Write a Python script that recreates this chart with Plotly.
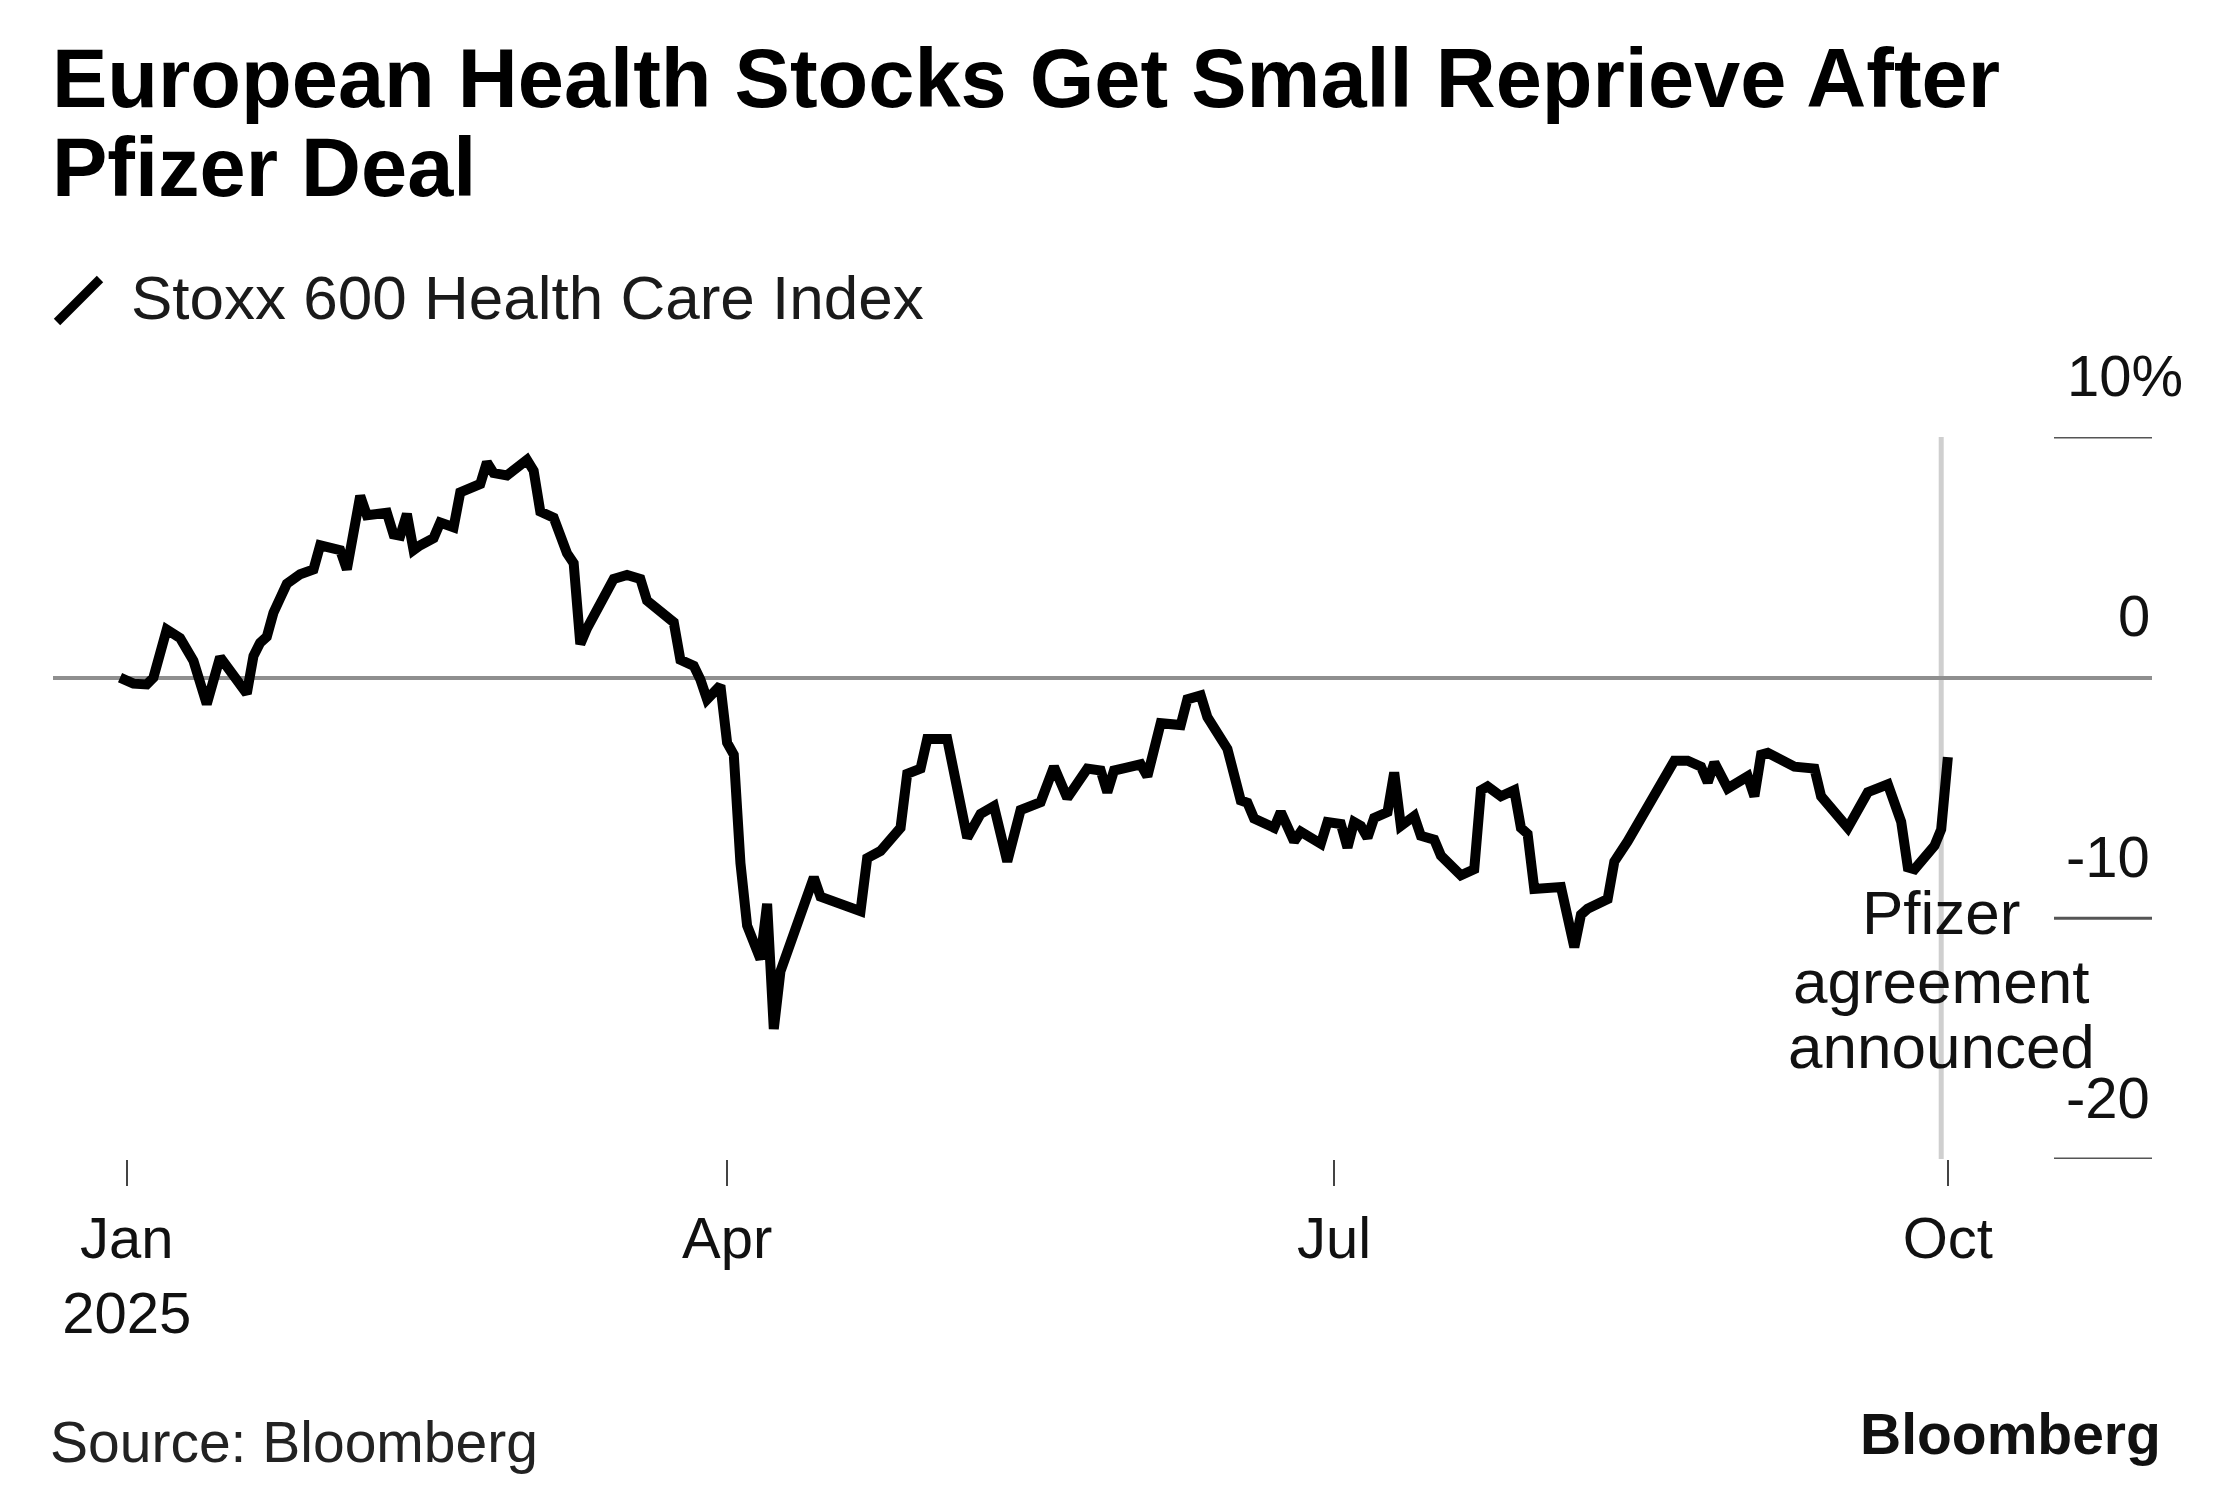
import plotly.graph_objects as go

# ---- data ----
dates = [
    "2024-12-31", "2025-01-02", "2025-01-04", "2025-01-05", "2025-01-07", "2025-01-09",
    "2025-01-11", "2025-01-13", "2025-01-15", "2025-01-17", "2025-01-19", "2025-01-20",
    "2025-01-21", "2025-01-22", "2025-01-23", "2025-01-24", "2025-01-25", "2025-01-27",
    "2025-01-29", "2025-01-30", "2025-02-01", "2025-02-02", "2025-02-03", "2025-02-04",
    "2025-02-05", "2025-02-06", "2025-02-09", "2025-02-10", "2025-02-11", "2025-02-12",
    "2025-02-13", "2025-02-14", "2025-02-16", "2025-02-17", "2025-02-19", "2025-02-20",
    "2025-02-21", "2025-02-23", "2025-02-24", "2025-02-25", "2025-02-27", "2025-03-02",
    "2025-03-03", "2025-03-04", "2025-03-06", "2025-03-08", "2025-03-09", "2025-03-10",
    "2025-03-11", "2025-03-15", "2025-03-17", "2025-03-19", "2025-03-20", "2025-03-22",
    "2025-03-24", "2025-03-25", "2025-03-27", "2025-03-28", "2025-03-29", "2025-03-31",
    "2025-04-01", "2025-04-02", "2025-04-03", "2025-04-04", "2025-04-06", "2025-04-07",
    "2025-04-08", "2025-04-09", "2025-04-14", "2025-04-15", "2025-04-21", "2025-04-22",
    "2025-04-24", "2025-04-27", "2025-04-28", "2025-04-30", "2025-05-01", "2025-05-04",
    "2025-05-05", "2025-05-07", "2025-05-09", "2025-05-11", "2025-05-13", "2025-05-15",
    "2025-05-18", "2025-05-20", "2025-05-22", "2025-05-25", "2025-05-27", "2025-05-28",
    "2025-05-29", "2025-06-02", "2025-06-03", "2025-06-04", "2025-06-05", "2025-06-08",
    "2025-06-09", "2025-06-11", "2025-06-12", "2025-06-15", "2025-06-17", "2025-06-18",
    "2025-06-19", "2025-06-22", "2025-06-23", "2025-06-25", "2025-06-26", "2025-06-29",
    "2025-06-30", "2025-07-02", "2025-07-03", "2025-07-04", "2025-07-05", "2025-07-06",
    "2025-07-07", "2025-07-09", "2025-07-10", "2025-07-11", "2025-07-13", "2025-07-14",
    "2025-07-16", "2025-07-17", "2025-07-20", "2025-07-22", "2025-07-23", "2025-07-24",
    "2025-07-26", "2025-07-28", "2025-07-29", "2025-07-30", "2025-07-31", "2025-08-04",
    "2025-08-06", "2025-08-07", "2025-08-08", "2025-08-11", "2025-08-12", "2025-08-14",
    "2025-08-16", "2025-08-18", "2025-08-20", "2025-08-21", "2025-08-23", "2025-08-25",
    "2025-08-26", "2025-08-27", "2025-08-29", "2025-08-31", "2025-09-01", "2025-09-02",
    "2025-09-03", "2025-09-04", "2025-09-08", "2025-09-11", "2025-09-12", "2025-09-16",
    "2025-09-18", "2025-09-19", "2025-09-22", "2025-09-24", "2025-09-25", "2025-09-26",
    "2025-09-29", "2025-09-30", "2025-10-01",
]
values = [
    0.0, -0.25, -0.28, 0.0, 2.0, 1.65,
    0.7, -1.1, 0.85, 0.1, -0.66, 0.9,
    1.45, 1.7, 2.7, 3.3, 3.9, 4.3,
    4.5, 5.5, 5.4, 5.3, 4.5, 6.15,
    7.55, 6.75, 6.85, 5.95, 5.9, 6.8,
    5.3, 5.5, 5.8, 6.45, 6.25, 7.7,
    7.8, 8.05, 8.95, 8.5, 8.4, 9.05,
    8.6, 6.9, 6.65, 5.17, 4.76, 1.4,
    2.05, 4.1, 4.27, 4.1, 3.2, 2.71,
    2.3, 0.74, 0.49, -0.08, -0.9, -0.33,
    -2.7, -3.2, -7.7, -10.3, -11.7, -9.4,
    -14.6, -12.2, -8.3, -9.1, -9.7, -7.5,
    -7.2, -6.24, -4.0, -3.78, -2.55, -2.55,
    -3.86, -6.65, -5.66, -5.34, -7.64, -5.5,
    -5.17, -3.7, -5.0, -3.78, -3.86, -4.76,
    -3.86, -3.6, -4.1, -3.04, -1.89, -1.97,
    -0.9, -0.74, -1.64, -2.96, -5.1, -5.2,
    -5.85, -6.24, -5.58, -6.8, -6.4, -6.9,
    -6.0, -6.08, -7.06, -6.0, -6.16, -6.65,
    -5.83, -5.58, -3.94, -6.16, -5.75, -6.57,
    -6.73, -7.39, -8.21, -7.96, -4.68, -4.52,
    -4.93, -4.68, -6.24, -6.49, -8.78, -8.7,
    -11.2, -9.85, -9.6, -9.2, -7.64, -6.8,
    -5.85, -4.84, -3.86, -3.45, -3.45, -3.7,
    -4.35, -3.53, -4.6, -4.27, -4.1, -4.93,
    -3.2, -3.12, -3.7, -3.78, -4.93, -6.24,
    -5.25, -4.76, -4.43, -5.99, -7.88, -7.96,
    -6.98, -6.3, -3.3,
]

x_tick_dates = ["2025-01-01", "2025-04-01", "2025-07-01", "2025-10-01"]
x_tick_labels = ["Jan<br>2025", "Apr", "Jul", "Oct"]
y_tick_values = [-20, -10, 0, 10]
y_tick_labels = ["-20", "-10", "0", "10%"]
event_date = "2025-09-30"
event_lines = ["Pfizer", "agreement", "announced"]
series_name = "Stoxx 600 Health Care Index"
title_lines = ["European Health Stocks Get Small Reprieve After", "Pfizer Deal"]
source_text = "Source: Bloomberg"
brand_text = "Bloomberg"

FONT = "Liberation Sans, Arial, sans-serif"

# page is drawn inside an 8px body margin
PAGE_OFF = 8
W, H = 2233 - 2 * PAGE_OFF, 1495 - 2 * PAGE_OFF
PLOT_L, PLOT_R, PLOT_T, PLOT_B = 53, 2152, 437, 1159  # page pixels
L = PLOT_L - PAGE_OFF
R = W - (PLOT_R - PAGE_OFF)
T = PLOT_T - PAGE_OFF
B = H - (PLOT_B - PAGE_OFF)
plot_w = PLOT_R - PLOT_L
plot_h = PLOT_B - PLOT_T


def px_x(px):
    return (px - PLOT_L) / plot_w


def px_y(py):
    return (PLOT_B - py) / plot_h


fig = go.Figure()
fig.add_trace(go.Scatter(
    x=dates, y=values, mode="lines", name=series_name,
    line=dict(color="#000000", width=10), showlegend=False,
    hoverinfo="skip",
))

shapes = [
    # event marker
    dict(type="line", xref="x", yref="y", x0=event_date, x1=event_date,
         y0=-20, y1=10, line=dict(color="#cfcfcf", width=5), layer="below"),
    # legend slash
    dict(type="line", xref="paper", yref="paper",
         x0=px_x(57), y0=px_y(322), x1=px_x(100), y1=px_y(279),
         line=dict(color="#000000", width=9)),
]
# short tick segments at the right edge for the non-zero ticks
for v in y_tick_values:
    if v != 0:
        shapes.append(dict(type="line", xref="paper", yref="y",
                           x0=px_x(2054), x1=1, y0=v, y1=v,
                           line=dict(color="#555555", width=3)))

annotations = []
for lab, py in zip(title_lines, [78, 168]):
    annotations.append(dict(text="<b>" + lab + "</b>", xref="paper", yref="paper",
                            x=px_x(50), y=px_y(py), xanchor="left", yanchor="middle",
                            showarrow=False,
                            font=dict(family=FONT, size=83, color="#000000")))

annotations += [
    dict(text=series_name, xref="paper", yref="paper", x=px_x(129), y=px_y(297),
         xanchor="left", yanchor="middle", showarrow=False,
         font=dict(family=FONT, size=62, color="#1a1a1a")),
    dict(text=source_text, xref="paper", yref="paper", x=px_x(48), y=px_y(1442),
         xanchor="left", yanchor="middle", showarrow=False,
         font=dict(family=FONT, size=57, color="#222222")),
    dict(text="<b>" + brand_text + "</b>", xref="paper", yref="paper", x=px_x(2163), y=px_y(1434),
         xanchor="right", yanchor="middle", showarrow=False,
         font=dict(family=FONT, size=57, color="#111111")),
]

# y tick labels sitting above their tick lines
for v, lab in zip(y_tick_values, y_tick_labels):
    xr = px_x(2185) if lab.endswith("%") else px_x(2152)
    annotations.append(dict(text=lab, xref="paper", yref="y", x=xr, y=v,
                            xanchor="right", yanchor="middle", yshift=62,
                            showarrow=False,
                            font=dict(family=FONT, size=58, color="#111111")))

# event label lines
for lab, py in zip(event_lines, [912, 981, 1046]):
    annotations.append(dict(text=lab, xref="x", yref="paper", x=event_date, y=px_y(py),
                            xanchor="center", yanchor="middle", showarrow=False,
                            font=dict(family=FONT, size=62, color="#111111")))

fig.update_layout(
    width=W, height=H,
    margin=dict(l=L, r=R, t=T, b=B, pad=0),
    paper_bgcolor="white", plot_bgcolor="white",
    shapes=shapes,
    annotations=annotations,
    font=dict(family=FONT, color="#111111"),
)

fig.update_xaxes(
    type="date",
    range=["2024-12-20 22:48", "2025-10-31 14:24"],
    tickvals=x_tick_dates, ticktext=x_tick_labels,
    ticks="outside", ticklen=26, tickwidth=2, tickcolor="#444444",
    showgrid=False, zeroline=False, showline=False,
    tickfont=dict(family=FONT, size=58, color="#111111"),
    ticklabelstandoff=2,
)

fig.update_yaxes(
    range=[-20, 10], side="right",
    tickvals=y_tick_values, showticklabels=False,
    ticks="",
    showgrid=False, showline=False,
    zeroline=True, zerolinecolor="#8f8f8f", zerolinewidth=4,
)

fig.write_html("out.html")
